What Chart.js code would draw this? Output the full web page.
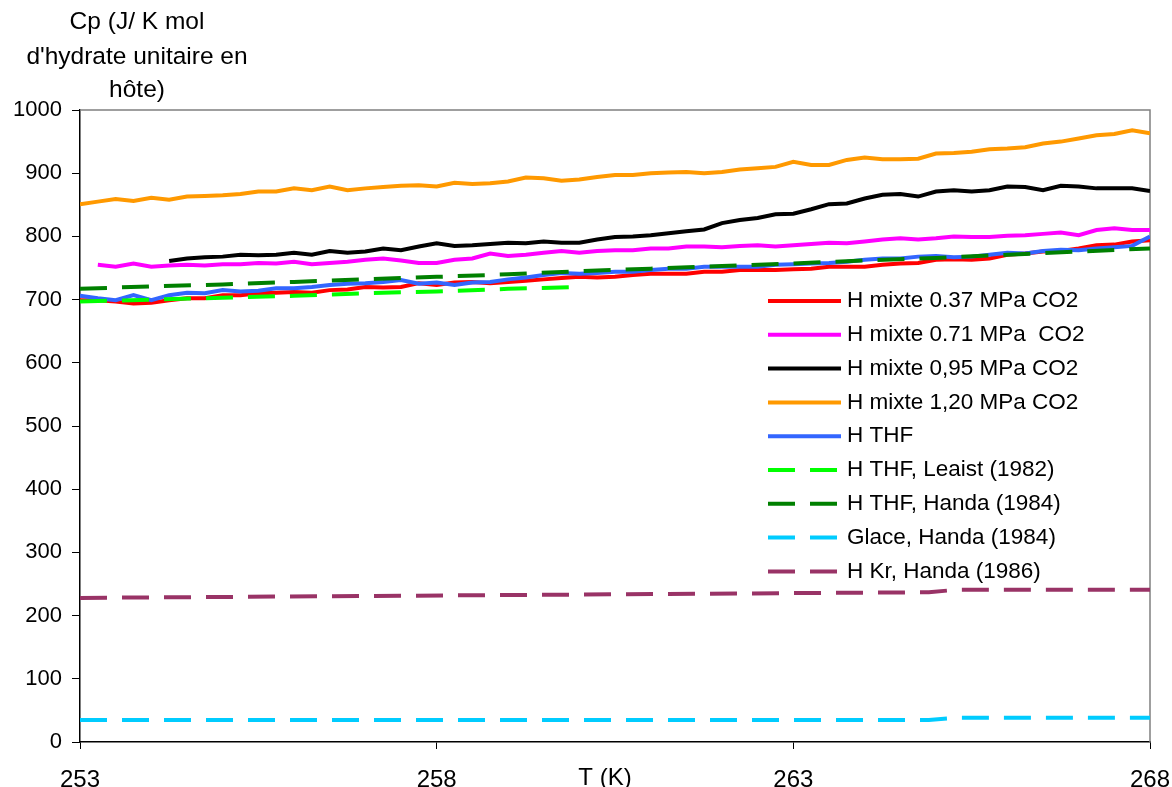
<!DOCTYPE html>
<html lang="fr">
<head>
<meta charset="UTF-8">
<title>Cp hydrates</title>
<script src="https://cdn.jsdelivr.net/npm/chart.js"></script>
<style>
  body { margin: 0; background: #fff; }
  #wrap { width: 1172px; height: 787px; }
</style>
</head>
<body>
<div id="wrap"><canvas id="graphe" width="1172" height="787"></canvas></div>
<script>
// Temperatures (K), pas de 0.25 K
var temps = [253, 253.25, 253.5, 253.75, 254, 254.25, 254.5, 254.75, 255, 255.25,
  255.5, 255.75, 256, 256.25, 256.5, 256.75, 257, 257.25, 257.5, 257.75,
  258, 258.25, 258.5, 258.75, 259, 259.25, 259.5, 259.75, 260, 260.25,
  260.5, 260.75, 261, 261.25, 261.5, 261.75, 262, 262.25, 262.5, 262.75,
  263, 263.25, 263.5, 263.75, 264, 264.25, 264.5, 264.75, 265, 265.25,
  265.5, 265.75, 266, 266.25, 266.5, 266.75, 267, 267.25, 267.5, 267.75, 268];

// Cp mesures (J/K mol)
var cp037 = [699, 699, 697, 694, 695, 699, 702, 702, 707, 707,
  710, 711, 712, 711, 715, 716, 720, 719, 720, 726,
  723, 727, 728, 726, 728, 730, 732, 734, 736, 735,
  736, 739, 741, 741, 741, 744, 744, 747, 747, 747,
  748, 749, 752, 752, 752, 755, 757, 758, 763, 764,
  763, 765, 771, 773, 776, 777, 781, 786, 787, 792, 794];
var cp071 = [null, 755, 752, 757, 752, 754, 755, 754, 756, 756,
  758, 757, 760, 756, 758, 760, 763, 765, 762, 758,
  758, 763, 765, 773, 769, 771, 774, 777, 774, 777,
  778, 778, 781, 781, 784, 784, 783, 785, 786, 784,
  786, 788, 790, 789, 792, 795, 797, 795, 797, 800,
  799, 799, 801, 802, 804, 806, 802, 810, 813, 810, 810];
var cp095 = [null, null, null, null, null, 761, 765, 767, 768, 771,
  770, 771, 774, 771, 777, 774, 776, 781, 778, 784,
  789, 785, 786, 788, 790, 789, 792, 790, 790, 795,
  799, 800, 802, 805, 808, 811, 821, 826, 829, 835,
  836, 843, 851, 852, 860, 866, 867, 863, 871, 873,
  871, 873, 879, 878, 873, 880, 879, 876, 876, 876, 872];
var cp120 = [851, 855, 859, 856, 861, 858, 863, 864, 865, 867,
  871, 871, 876, 873, 879, 873, 876, 878, 880, 881,
  879, 885, 883, 884, 887, 893, 892, 888, 890, 894,
  897, 897, 900, 901, 902, 900, 902, 906, 908, 910,
  918, 913, 913, 921, 925, 922, 922, 923, 931, 932,
  934, 938, 939, 941, 947, 950, 955, 960, 962, 968, 963];
var cpTHF = [706, 702, 699, 707, 699, 707, 711, 710, 715, 713,
  714, 718, 718, 720, 723, 725, 726, 728, 731, 725,
  727, 723, 727, 728, 732, 735, 739, 742, 741, 742,
  744, 744, 747, 749, 749, 752, 752, 752, 752, 755,
  756, 757, 758, 760, 763, 765, 765, 768, 769, 767,
  768, 771, 774, 773, 777, 779, 778, 781, 783, 785, 800];

// Donnees de la litterature
var tLeaist = [253, 254, 255, 256, 257, 258, 259, 260];
var cpLeaist = [697, 700, 703, 706, 710, 713, 717, 720];
var tHanda = [253, 254, 255, 256, 257, 258, 259, 260, 261, 262, 263, 264, 265, 266, 267, 268];
var cpHanda = [717, 721, 724, 728, 732, 736, 740, 745, 749, 753, 757, 762, 766, 771, 776, 781];
var tGlace = [253, 264.9, 265.3, 268];
var cpGlace = [35, 35, 38.5, 38.5];
var tKr = [253, 264.9, 265.3, 268];
var cpKr = [228, 237, 241, 241];

var noms = ['H mixte 0.37 MPa CO2', 'H mixte 0.71 MPa  CO2', 'H mixte 0,95 MPa CO2',
  'H mixte 1,20 MPa CO2', 'H THF', 'H THF, Leaist (1982)', 'H THF, Handa (1984)',
  'Glace, Handa (1984)', 'H Kr, Handa (1986)'];
var couleurs = ['#ff0000', '#ff00ff', '#000000', '#ff9900', '#3366ff',
  '#00ff00', '#008000', '#00ccff', '#993366'];

function points(xs, ys) {
  return xs.map(function (x, i) { return { x: x, y: ys[i] }; });
}

var series = [
  points(temps, cp037), points(temps, cp071), points(temps, cp095),
  points(temps, cp120), points(temps, cpTHF),
  points(tLeaist, cpLeaist), points(tHanda, cpHanda),
  points(tGlace, cpGlace), points(tKr, cpKr)
];

var tirets = [27, 15];
var datasets = series.map(function (d, i) {
  return {
    label: noms[i],
    data: d,
    borderColor: couleurs[i],
    backgroundColor: couleurs[i],
    borderWidth: 4,
    borderDash: i < 5 ? [] : tirets,
    pointRadius: 0,
    tension: 0,
    fill: false,
    order: 10 - i
  };
});

var police = 'Liberation Sans, Arial, sans-serif';

// titres, cadre et legende dessines a la main
var decor = {
  id: 'decor',
  beforeDatasetsDraw: function (chart) {
    var ctx = chart.ctx, a = chart.chartArea;
    ctx.save();
    ctx.strokeStyle = '#808080';
    ctx.lineWidth = 1.5;
    ctx.beginPath();
    ctx.moveTo(a.left, a.top);
    ctx.lineTo(a.right, a.top);
    ctx.lineTo(a.right, a.bottom);
    ctx.stroke();
    ctx.restore();
  },
  afterDraw: function (chart) {
    var ctx = chart.ctx;
    ctx.save();
    ctx.fillStyle = '#000';
    ctx.textAlign = 'center';
    ctx.textBaseline = 'middle';
    ctx.font = '24.5px ' + police;
    ctx.fillText('Cp (J/ K mol', 137, 22);
    ctx.fillText("d'hydrate unitaire en", 137, 57);
    ctx.fillText('hôte)', 137, 90);
    ctx.font = '24px ' + police;
    ctx.fillText('T (K)', 605, 778);

    // legende
    ctx.font = '22.5px ' + police;
    ctx.textAlign = 'left';
    for (var i = 0; i < noms.length; i++) {
      var y = 301 + i * 33.8;
      ctx.strokeStyle = couleurs[i];
      ctx.lineWidth = 4;
      ctx.setLineDash(i < 5 ? [] : tirets);
      ctx.beginPath();
      ctx.moveTo(768, y);
      ctx.lineTo(841, y);
      ctx.stroke();
      ctx.fillText(noms[i], 847, y);
    }
    ctx.restore();
  }
};

new Chart(document.getElementById('graphe'), {
  type: 'line',
  data: { datasets: datasets },
  plugins: [decor],
  options: {
    responsive: false,
    animation: false,
    devicePixelRatio: 1,
    layout: { padding: { top: 110, right: 22, left: 0, bottom: 0 } },
    plugins: { legend: { display: false }, tooltip: { enabled: false } },
    scales: {
      x: {
        type: 'linear',
        min: 253,
        max: 268,
        afterFit: function (s) { s.height = 45; s.paddingRight = 0; s.paddingLeft = 0; },
        ticks: { stepSize: 5, color: '#000', font: { family: police, size: 24 }, padding: 17, maxRotation: 0,
          callback: function (v) { return String(v); } },
        grid: { drawOnChartArea: false, tickLength: 7, color: '#000' },
        border: { color: '#000', width: 1.5 }
      },
      y: {
        min: 0,
        max: 1000,
        afterFit: function (s) { s.width = 80; },
        ticks: { stepSize: 100, color: '#000', font: { family: police, size: 22 }, padding: 10,
          callback: function (v) { return String(v); } },
        grid: { drawOnChartArea: false, tickLength: 8, color: '#000' },
        border: { color: '#000', width: 1.5 }
      }
    }
  }
});
</script>
</body>
</html>
